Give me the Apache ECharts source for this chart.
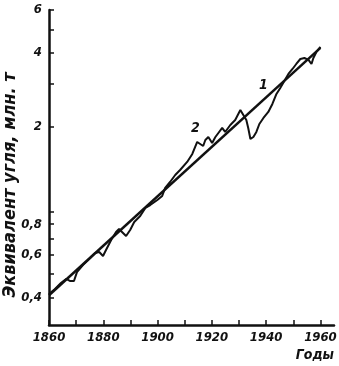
<!DOCTYPE html>
<html>
<head>
<meta charset="utf-8">
<script src="https://cdn.jsdelivr.net/npm/echarts@6/dist/echarts.min.js"></script>
<style>
html, body { margin: 0; padding: 0; background: #fff; }
#coalChart { width: 339px; height: 366px; }
</style>
</head>
<body>
<div id="coalChart"></div>
<script>
// кривая 2 — фактическое потребление (годы и значения, млн. т)
const years2 = [1860, 1862.2, 1864.4, 1866.3, 1867.7, 1869.2, 1870.3, 1872.5, 1874.8, 1877,
  1878.5, 1879.9, 1881, 1882.9, 1884.7, 1885.8, 1886.9, 1888.4, 1889.9, 1891.4,
  1893.6, 1895.5, 1897.3, 1899.9, 1901.7, 1902.8, 1904.6, 1906.5, 1908.3, 1910.9,
  1912.8, 1914.6, 1916.8, 1917.6, 1918.7, 1920.1, 1921.3, 1922.4, 1923.8, 1924.9,
  1926.8, 1928.6, 1930.5, 1931.6, 1932.7, 1933.4, 1934.2, 1935.3, 1936.4, 1937.5,
  1939, 1940.8, 1942.3, 1943.8, 1945.2, 1946.7, 1948.2, 1949.7, 1951.1, 1952.6,
  1954.1, 1955.6, 1956.7, 1957.4, 1958.5, 1960]
const values2 = [0.415, 0.435, 0.46, 0.478, 0.469, 0.469, 0.51, 0.545, 0.577, 0.61,
  0.616, 0.593, 0.628, 0.69, 0.744, 0.765, 0.744, 0.716, 0.758, 0.817,
  0.864, 0.932, 0.958, 1.005, 1.043, 1.125, 1.19, 1.271, 1.332, 1.437,
  1.549, 1.734, 1.67, 1.767, 1.817, 1.718, 1.817, 1.887, 1.978, 1.905,
  2.034, 2.132, 2.343, 2.235, 2.132, 1.978, 1.784, 1.817, 1.905, 2.053,
  2.173, 2.299, 2.479, 2.724, 2.882, 3.077, 3.287, 3.445, 3.611, 3.784,
  3.82, 3.75, 3.611, 3.82, 4.043, 4.238]
// прямая 1 — экспоненциальный тренд
const years1 = [1860, 1960]
const values1 = [0.41, 4.2]
// деления осей
const xTicks = [1860, 1870, 1880, 1890, 1900, 1910, 1920, 1930, 1940, 1950, 1960]
const xLabels = [1860, 1880, 1900, 1920, 1940, 1960]
const yTicks = [0.4, 0.5, 0.6, 0.7, 0.8, 0.9, 2, 3, 4, 5, 6]
const yLabels = [0.4, 0.6, 0.8, 2, 4, 6]

const chart = echarts.init(document.getElementById('coalChart'))
const font = {
  fontFamily: '"DejaVu Sans Condensed", "DejaVu Sans", sans-serif',
  fontStyle: 'italic',
  fontWeight: 'bold',
  color: '#111'
}
const option = {
  backgroundColor: '#fff',
  animation: false,
  grid: {
    left: 49,
    right: 5,
    top: 10,
    bottom: 41,
    containLabel: false,
    outerBoundsMode: 'none'
  },
  xAxis: {
    type: 'value',
    min: 1860,
    max: 1965,
    name: 'Годы',
    nameLocation: 'end',
    nameGap: 0,
    nameMoveOverlap: false,
    nameTextStyle: Object.assign({}, font, {
      fontSize: 14,
      align: 'right',
      verticalAlign: 'top',
      padding: [23, 0, 0, 0]
    }),
    axisLine: { show: true, lineStyle: { color: '#111', width: 2.5 } },
    axisTick: { show: true, inside: true, length: 5, customValues: xTicks, lineStyle: { color: '#111', width: 1.5 } },
    axisLabel: Object.assign({}, font, {
      fontSize: 13,
      margin: 6,
      customValues: xLabels,
      formatter: function (v) { return String(v) }
    }),
    splitLine: { show: false }
  },
  yAxis: {
    type: 'log',
    min: 0.31,
    max: 6,
    name: 'Эквивалент угля, млн. т',
    nameLocation: 'middle',
    nameGap: 30,
    nameRotate: 90,
    nameMoveOverlap: false,
    nameTextStyle: Object.assign({}, font, {
      fontSize: 18,
      padding: [0, 35, 0, 0]
    }),
    axisLine: { show: true, lineStyle: { color: '#111', width: 2.5 } },
    axisTick: { show: true, inside: true, length: 5, customValues: yTicks, lineStyle: { color: '#111', width: 1.5 } },
    axisLabel: Object.assign({}, font, {
      fontSize: 13,
      margin: 7,
      customValues: yLabels,
      formatter: function (v) { return String(v).replace('.', ',') }
    }),
    splitLine: { show: false }
  },
  series: [{
    name: '1',
    type: 'line',
    data: years1.map((y, i) => [y, values1[i]]),
    symbol: 'none',
    lineStyle: { color: '#111', width: 2.5 },
    markPoint: {
      symbol: 'circle',
      symbolSize: 0,
      label: Object.assign({}, font, { show: true, fontSize: 14, formatter: '1' }),
      data: [{ coord: [1939, 2.96] }]
    }
  }, {
    name: '2',
    type: 'line',
    data: years2.map((y, i) => [y, values2[i]]),
    symbol: 'none',
    lineStyle: { color: '#111', width: 2 },
    markPoint: {
      symbol: 'circle',
      symbolSize: 0,
      label: Object.assign({}, font, { show: true, fontSize: 14, formatter: '2' }),
      data: [{ coord: [1913.9, 1.98] }]
    }
  }]
}
chart.setOption(option)
</script>
</body>
</html>
